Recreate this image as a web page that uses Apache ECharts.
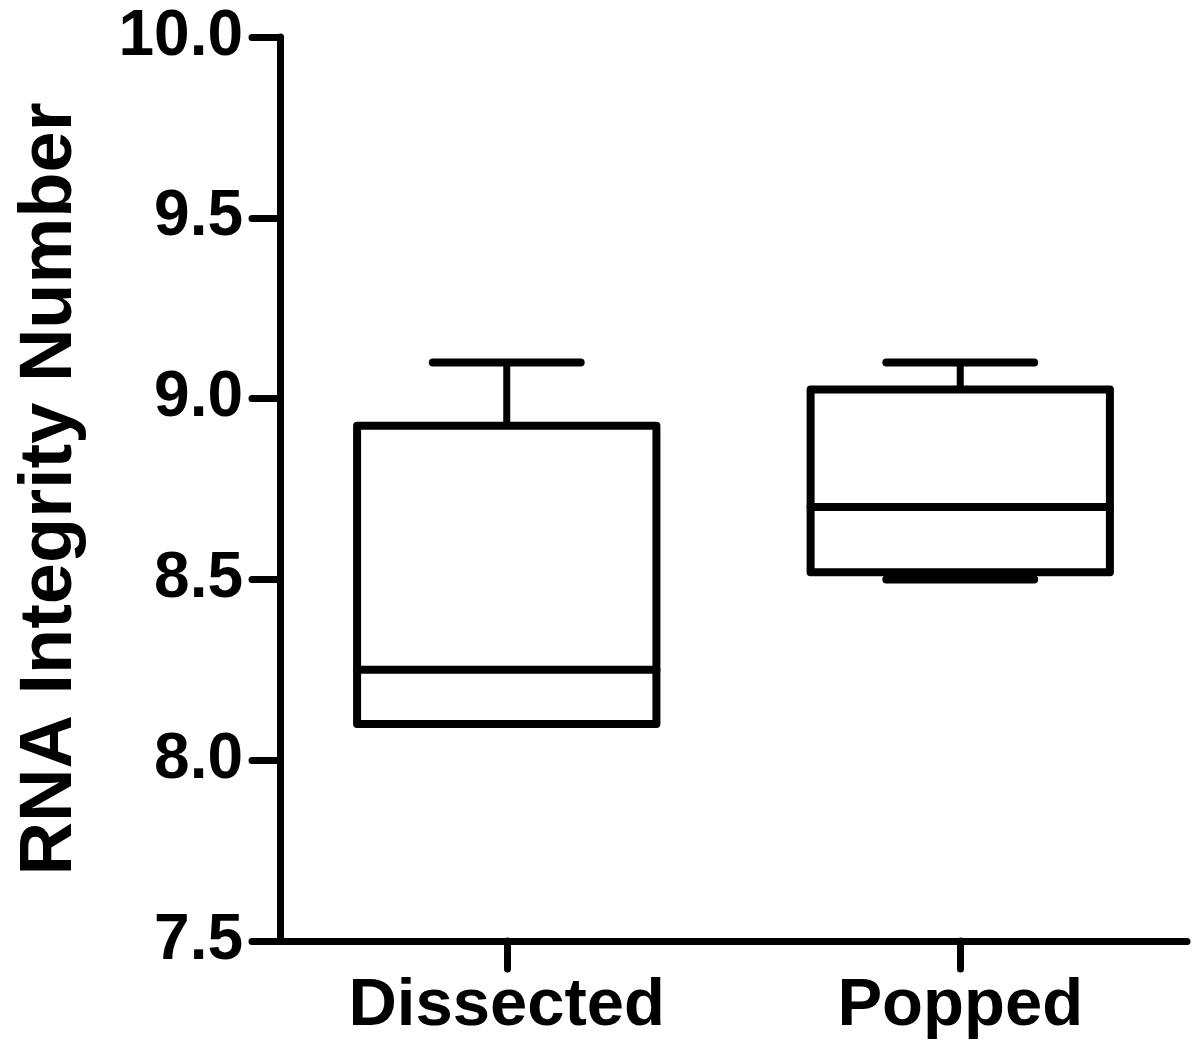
<!DOCTYPE html>
<html>
<head>
<meta charset="utf-8">
<script src="https://cdn.jsdelivr.net/npm/echarts@6/dist/echarts.min.js"></script>
<style>html,body{margin:0;padding:0;background:#fff;}#c{width:1200px;height:1056px;}</style>
</head>
<body>
<div id="c"></div>
<script>
const categories = ['Dissected', 'Popped'];
const whiskerMin = [8.1, 8.5];
const q1 = [8.1, 8.52];
const median = [8.25, 8.7];
const q3 = [8.925, 9.025];
const whiskerMax = [9.1, 9.1];
const yTicks = [7.5, 8.0, 8.5, 9.0, 9.5, 10.0];

const FONT = "'Liberation Sans', Arial, Helvetica, sans-serif";
const chart = echarts.init(document.getElementById('c'), null, {renderer: 'canvas'});

const boxData = categories.map((c, i) => [i, whiskerMin[i], q1[i], median[i], q3[i], whiskerMax[i]]);

function renderItem(params, api) {
  const idx = api.value(0);
  const band = api.size([1, 0])[0];
  const half = band * 0.33;
  const capHalf = band * 0.163;
  const pMin = api.coord([idx, api.value(1)]);
  const pQ1 = api.coord([idx, api.value(2)]);
  const pMed = api.coord([idx, api.value(3)]);
  const pQ3 = api.coord([idx, api.value(4)]);
  const pMax = api.coord([idx, api.value(5)]);
  const cx = pQ1[0];
  const style = {stroke: '#000', lineWidth: 8, fill: null, lineCap: 'round', lineJoin: 'round'};
  return {
    type: 'group',
    children: [
      {type: 'line', shape: {x1: cx, y1: pQ3[1], x2: cx, y2: pMax[1]}, style: Object.assign({}, style, {lineWidth: 7})},
      {type: 'line', shape: {x1: cx - capHalf, y1: pMax[1], x2: cx + capHalf, y2: pMax[1]}, style: style},
      {type: 'line', shape: {x1: cx, y1: pQ1[1], x2: cx, y2: pMin[1]}, style: Object.assign({}, style, {lineWidth: 7})},
      {type: 'line', shape: {x1: cx - capHalf, y1: pMin[1], x2: cx + capHalf, y2: pMin[1]}, style: style},
      {type: 'rect', shape: {x: cx - half, y: pQ3[1], width: half * 2, height: pQ1[1] - pQ3[1]}, style: Object.assign({}, style, {fill: '#fff'})},
      {type: 'line', shape: {x1: cx - half, y1: pMed[1], x2: cx + half, y2: pMed[1]}, style: style}
    ]
  };
}

const option = {
  backgroundColor: '#fff',
  animation: false,
  grid: {left: 280, right: 13, top: 37, bottom: 115, containLabel: false},
  xAxis: {
    type: 'category',
    data: categories,
    boundaryGap: true,
    axisLine: {show: true, lineStyle: {color: '#000', width: 7, cap: 'round'}},
    axisTick: {show: true, inside: false, alignWithLabel: true, interval: 0, length: 28, lineStyle: {color: '#000', width: 7, cap: 'round'}},
    axisLabel: {color: '#000', fontSize: 67, fontWeight: 'bold', fontFamily: FONT, margin: 32, interval: 0},
    splitLine: {show: false}
  },
  yAxis: {
    type: 'value',
    min: 7.5, max: 10, interval: 0.5,
    name: 'RNA Integrity Number',
    nameLocation: 'middle',
    nameGap: 192,
    nameRotate: 90,
    nameTextStyle: {color: '#000', fontSize: 74, fontWeight: 'bold', fontFamily: FONT},
    axisLine: {show: true, lineStyle: {color: '#000', width: 7, cap: 'round'}},
    axisTick: {show: true, length: 28, lineStyle: {color: '#000', width: 7, cap: 'round'}},
    axisLabel: {color: '#000', fontSize: 64, fontWeight: 'bold', fontFamily: FONT, margin: 37,
      formatter: v => yTicks.find(t => Math.abs(t - v) < 1e-9) !== undefined ? v.toFixed(1) : ''},
    splitLine: {show: false}
  },
  series: [{
    type: 'custom',
    renderItem: renderItem,
    encode: {x: 0, y: [1, 2, 3, 4, 5]},
    data: boxData,
    clip: false
  }]
};
chart.setOption(option);
</script>
</body>
</html>
